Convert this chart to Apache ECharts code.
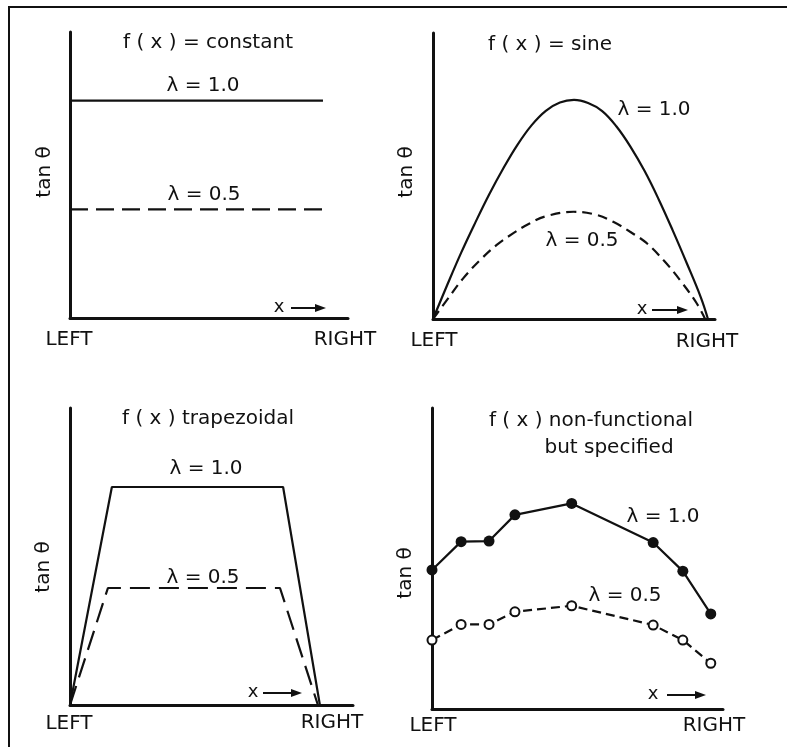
<!DOCTYPE html>
<html>
<head>
<meta charset="utf-8">
<script src="https://cdn.jsdelivr.net/npm/echarts@6/dist/echarts.min.js"></script>
<style>
  html, body { margin: 0; padding: 0; background: #fff; }
  #main { width: 787px; height: 747px; }
</style>
</head>
<body>
<div id="main"></div>
<script>
// values are fractions of each panel's axis length (0 = LEFT / bottom)
var constX = [0, 0.91];
var constHigh = [0.76, 0.76];
var constLow = [0.38, 0.38];

var sineHighX = [0, 0.05, 0.10, 0.15, 0.20, 0.25, 0.30, 0.35, 0.40, 0.45, 0.50, 0.55, 0.60, 0.65, 0.70, 0.75, 0.80, 0.85, 0.90, 0.95, 0.975];
var sineHighY = [0, 0.118, 0.232, 0.337, 0.437, 0.528, 0.610, 0.678, 0.728, 0.757, 0.766, 0.755, 0.727, 0.674, 0.603, 0.518, 0.419, 0.310, 0.195, 0.075, 0];
var sineLowX = [0, 0.049, 0.107, 0.167, 0.226, 0.285, 0.344, 0.403, 0.498, 0.580, 0.639, 0.699, 0.758, 0.817, 0.876, 0.935, 0.965];
var sineLowY = [0, 0.066, 0.142, 0.206, 0.259, 0.300, 0.335, 0.360, 0.375, 0.364, 0.340, 0.305, 0.265, 0.206, 0.136, 0.055, 0];

var trapHighX = [0, 0.148, 0.753, 0.883];
var trapHighY = [0, 0.734, 0.734, 0];
var trapLowX = [0, 0.134, 0.742, 0.876];
var trapLowY = [0, 0.394, 0.394, 0];

var specX = [0, 0.100, 0.196, 0.285, 0.480, 0.760, 0.862, 0.958];
var specHigh = [0.462, 0.556, 0.558, 0.645, 0.683, 0.553, 0.458, 0.316];
var specLow = [0.229, 0.281, 0.281, 0.323, 0.343, 0.279, 0.229, 0.152];

var ink = '#111';
var font = '"DejaVu Sans", "Liberation Sans", sans-serif';

function pairs(xs, ys) {
  return xs.map(function (x, i) { return [x, ys[i]]; });
}

function curve(idx, xs, ys, dash, extra) {
  var s = {
    type: 'line',
    xAxisIndex: idx,
    yAxisIndex: idx,
    data: pairs(xs, ys),
    showSymbol: false,
    lineStyle: { color: ink, width: 2.2, type: dash || 'solid' },
    silent: true
  };
  for (var k in extra) s[k] = extra[k];
  return s;
}

function label(text, x, y, size, rot) {
  return {
    type: 'text',
    x: x, y: y,
    rotation: rot || 0,
    style: {
      text: text,
      fill: ink,
      font: 'normal ' + (size || 20) + 'px ' + font,
      align: 'center',
      verticalAlign: 'middle'
    }
  };
}

function arrow(x1, x2, y) {
  return {
    type: 'group',
    children: [
      { type: 'line', shape: { x1: x1, y1: y, x2: x2 - 8, y2: y }, style: { stroke: ink, lineWidth: 2 } },
      { type: 'polygon', shape: { points: [[x2 - 11, y - 4], [x2, y], [x2 - 11, y + 4]] }, style: { fill: ink } }
    ]
  };
}

var grids = [
  { left: 70, top: 32, width: 278, height: 286 },
  { left: 433, top: 33, width: 282, height: 286 },
  { left: 70, top: 408, width: 283, height: 297 },
  { left: 432, top: 408, width: 291, height: 301 }
];

var axisCommon = {
  type: 'value', min: 0, max: 1,
  axisLine: { show: true, onZero: false, lineStyle: { color: ink, width: 3 } },
  axisTick: { show: false },
  axisLabel: { show: false },
  splitLine: { show: false }
};

var xAxes = grids.map(function (g, i) {
  return Object.assign({ gridIndex: i }, axisCommon);
});
var yAxes = grids.map(function (g, i) {
  return Object.assign({ gridIndex: i }, axisCommon);
});

var chart = echarts.init(document.getElementById('main'), null, { renderer: 'canvas' });
chart.setOption({
  animation: false,
  backgroundColor: '#fff',
  grid: grids,
  xAxis: xAxes,
  yAxis: yAxes,
  series: [
    curve(0, constX, constHigh),
    curve(0, constX, constLow, [18, 8]),
    curve(1, sineHighX, sineHighY, 'solid', { smooth: 0.4 }),
    curve(1, sineLowX, sineLowY, [10, 6], { smooth: 0.4 }),
    curve(2, trapHighX, trapHighY),
    curve(2, trapLowX, trapLowY, [20, 9]),
    curve(3, specX, specHigh, 'solid', {
      showSymbol: true, symbol: 'circle', symbolSize: 11,
      itemStyle: { color: ink }
    }),
    curve(3, specX, specLow, [9, 5], {
      showSymbol: true, symbol: 'circle', symbolSize: 9,
      itemStyle: { color: '#fff', borderColor: ink, borderWidth: 2 }
    })
  ],
  graphic: [
    // frame
    { type: 'line', shape: { x1: 8, y1: 7, x2: 787, y2: 7 }, style: { stroke: ink, lineWidth: 2 } },
    { type: 'line', shape: { x1: 9, y1: 7, x2: 9, y2: 747 }, style: { stroke: ink, lineWidth: 2 } },

    // panel 1
    label('f ( x ) = constant', 208, 43),
    label('λ = 1.0', 203, 86),
    label('λ = 0.5', 204, 195),
    label('tan θ', 45, 172, 20, Math.PI / 2),
    label('x', 279, 307, 18),
    arrow(291, 326, 308),
    label('LEFT', 69, 340),
    label('RIGHT', 345, 340),

    // panel 2
    label('f ( x ) = sine', 550, 45),
    label('λ = 1.0', 654, 110),
    label('λ = 0.5', 582, 241),
    label('tan θ', 407, 172, 20, Math.PI / 2),
    label('x', 642, 309, 18),
    arrow(652, 688, 310),
    label('LEFT', 434, 341),
    label('RIGHT', 707, 342),

    // panel 3
    label('f ( x ) trapezoidal', 208, 419),
    label('λ = 1.0', 206, 469),
    label('λ = 0.5', 203, 578),
    label('tan θ', 44, 567, 20, Math.PI / 2),
    label('x', 253, 692, 18),
    arrow(263, 302, 693),
    label('LEFT', 69, 724),
    label('RIGHT', 332, 723),

    // panel 4
    label('f ( x ) non-functional', 591, 421),
    label('but specified', 609, 448),
    label('λ = 1.0', 663, 517),
    label('λ = 0.5', 625, 596),
    label('tan θ', 406, 573, 20, Math.PI / 2),
    label('x', 653, 694, 18),
    arrow(667, 706, 695),
    label('LEFT', 433, 726),
    label('RIGHT', 714, 726)
  ]
});
</script>
</body>
</html>
